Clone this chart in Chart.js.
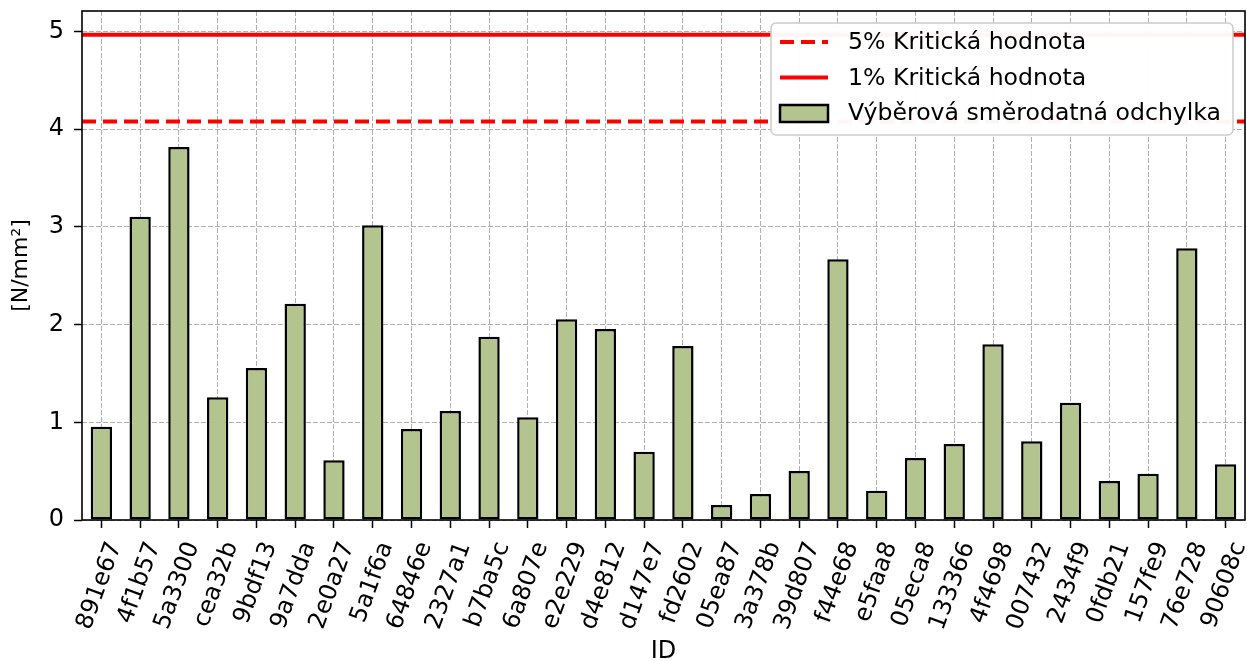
<!DOCTYPE html>
<html>
<head>
<meta charset="utf-8">
<script src="https://cdn.jsdelivr.net/npm/chart.js@4"></script>
<style>
  html, body { margin: 0; padding: 0; background: #fff; }
  #wrap { width: 1247px; height: 661px; }
</style>
</head>
<body>
<div id="wrap"><canvas id="chart" width="1247" height="661"></canvas></div>
<script>
const ids = ["891e67", "4f1b57", "5a3300", "cea32b", "9bdf13", "9a7dda", "2e0a27", "5a1f6a", "64846e", "2327a1",
  "b7ba5c", "6a807e", "e2e229", "d4e812", "d147e7", "fd2602", "05ea87", "3a378b", "39d807", "f44e68",
  "e5faa8", "05eca8", "133366", "4f4698", "007432", "2434f9", "0fdb21", "157fe9", "76e728", "90608c"];
const stdDev = [0.955, 3.104, 3.818, 1.256, 1.556, 2.214, 0.611, 3.016, 0.931, 1.116,
  1.876, 1.051, 2.054, 1.955, 0.699, 1.781, 0.154, 0.266, 0.502, 2.668,
  0.300, 0.635, 0.778, 1.798, 0.805, 1.201, 0.399, 0.474, 2.781, 0.570];
const crit5 = 4.08;
const crit1 = 4.967;
const yTicks = [0, 1, 2, 3, 4, 5];

const FONT = "DejaVu Sans";
const barColor = "#b3c48e";
const legendItems = [
  { label: "5% Kritická hodnota", kind: "dash" },
  { label: "1% Kritická hodnota", kind: "line" },
  { label: "Výběrová směrodatná odchylka", kind: "bar" },
];

// frame around the plot area + legend inside the axes
const framePlugin = {
  id: "frame",
  afterDraw(chart) {
    const { ctx, chartArea: a } = chart;
    ctx.save();
    ctx.setLineDash([]);
    ctx.strokeStyle = "#000";
    ctx.lineWidth = 1.6;
    ctx.strokeRect(a.left, a.top, a.right - a.left, a.bottom - a.top);

    // legend box
    const bx = 771, by = 23, bw = 462, bh = 112, r = 5;
    ctx.beginPath();
    ctx.moveTo(bx + r, by);
    ctx.arcTo(bx + bw, by, bx + bw, by + bh, r);
    ctx.arcTo(bx + bw, by + bh, bx, by + bh, r);
    ctx.arcTo(bx, by + bh, bx, by, r);
    ctx.arcTo(bx, by, bx + bw, by, r);
    ctx.closePath();
    ctx.fillStyle = "rgba(255,255,255,0.96)";
    ctx.fill();
    ctx.strokeStyle = "#cccccc";
    ctx.lineWidth = 1.5;
    ctx.stroke();

    ctx.font = "23.6px '" + FONT + "'";
    ctx.textBaseline = "middle";
    ctx.fillStyle = "#000";
    legendItems.forEach((it, i) => {
      const cy = 42 + i * 35.5;
      if (it.kind === "bar") {
        ctx.fillStyle = barColor;
        ctx.fillRect(780, cy - 8, 48, 17);
        ctx.strokeStyle = "#000";
        ctx.lineWidth = 2.5;
        ctx.setLineDash([]);
        ctx.strokeRect(780, cy - 8, 48, 17);
      } else {
        ctx.strokeStyle = "#ff0000";
        ctx.lineWidth = 4;
        ctx.setLineDash(it.kind === "dash" ? [14, 7] : []);
        ctx.beginPath();
        ctx.moveTo(780, cy);
        ctx.lineTo(828, cy);
        ctx.stroke();
        ctx.setLineDash([]);
      }
      ctx.fillStyle = "#000";
      ctx.fillText(it.label, 848, cy + 1);
    });
    ctx.restore();
  },
};

new Chart(document.getElementById("chart"), {
  data: {
    labels: ids,
    datasets: [
      {
        type: "line",
        label: "5% Kritická hodnota",
        xAxisID: "xLine",
        data: [{ x: 0, y: crit5 }, { x: 1, y: crit5 }],
        borderColor: "#ff0000",
        borderWidth: 4,
        borderDash: [14, 7],
        pointRadius: 0,
        order: 1,
      },
      {
        type: "line",
        label: "1% Kritická hodnota",
        xAxisID: "xLine",
        data: [{ x: 0, y: crit1 }, { x: 1, y: crit1 }],
        borderColor: "#ff0000",
        borderWidth: 4,
        pointRadius: 0,
        order: 1,
      },
      {
        type: "bar",
        label: "Výběrová směrodatná odchylka",
        data: stdDev,
        backgroundColor: barColor,
        borderColor: "#000",
        borderWidth: 2.5,
        borderSkipped: false,
        grouped: false,
        barPercentage: 0.55,
        categoryPercentage: 1.0,
        order: 2,
      },
    ],
  },
  options: {
    responsive: false,
    animation: false,
    layout: { padding: { left: 0, right: 2, top: 11, bottom: 0 } },
    plugins: { legend: { display: false }, tooltip: { enabled: false } },
    scales: {
      x: {
        type: "category",
        z: 1,
        offset: true,
        afterFit: (s) => { s.height = 141; s.paddingLeft = 0; s.paddingRight = 0; },
        grid: {
          color: "#b0b0b0",
          lineWidth: 1,
          offset: false,
          tickLength: 8,
          tickColor: "#000",
          tickWidth: 1.5,
        },
        border: { display: false, dash: [5, 2] },
        ticks: {
          autoSkip: false,
          minRotation: 70,
          maxRotation: 70,
          labelOffset: 14,
          padding: 10,
          color: "#000",
          font: { family: FONT, size: 24 },
        },
        title: {
          display: true,
          text: "ID",
          color: "#000",
          font: { family: FONT, size: 24, lineHeight: 1.0 },
          padding: { top: 0, bottom: -3 },
        },
      },
      xLine: {
        type: "linear",
        display: false,
        min: 0,
        max: 1,
      },
      y: {
        z: 1,
        min: 0,
        max: 5.21,
        afterFit: (s) => { s.width = 82; s.paddingTop = 0; s.paddingBottom = 0; },
        afterBuildTicks: (s) => { s.ticks = yTicks.map((v) => ({ value: v })); },
        grid: {
          color: "#b0b0b0",
          lineWidth: 1,
          tickLength: 8,
          tickColor: "#000",
          tickWidth: 1.5,
        },
        border: { display: false, dash: [5, 2] },
        ticks: {
          padding: 10,
          color: "#000",
          font: { family: FONT, size: 24 },
        },
        title: {
          display: true,
          text: "[N/mm²]",
          color: "#000",
          font: { family: FONT, size: 22, lineHeight: 1.0 },
          padding: { top: 10, bottom: 0 },
        },
      },
    },
  },
  plugins: [framePlugin],
});
</script>
</body>
</html>
